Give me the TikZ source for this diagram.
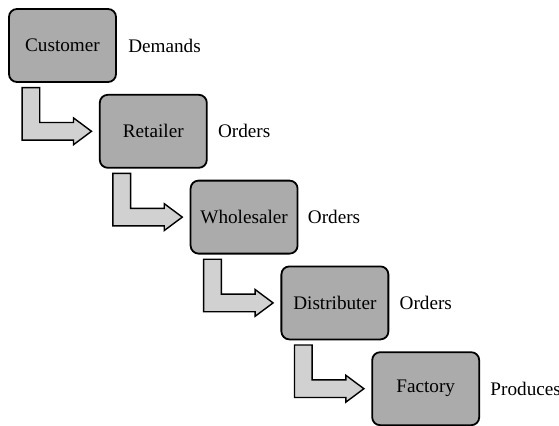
\documentclass[tikz,border=0pt]{standalone}
\usepackage{fontspec}
\setmainfont{Liberation Serif}
\newfontfamily\boxfont{Liberation Serif}
\usepackage{tikz}
\usetikzlibrary{positioning}
\usetikzlibrary{calc}

\begin{document}
\begin{tikzpicture}[node distance=42.9pt and 45.4pt,
    box/.style={draw, rectangle, rounded corners=4pt, line width=0.9pt, fill=black!33,
      minimum width=53.5pt, minimum height=36.5pt, on grid,
      font=\boxfont\fontsize{9.6pt}{11pt}\selectfont},
    note/.style={inner sep=0pt, font=\boxfont\fontsize{9.6pt}{11pt}\selectfont},
    flow/.style={draw, line width=0.7pt, fill=black!18, line join=miter}]
    \useasboundingbox (0,0) rectangle (279.5pt,-212.5pt);
    % Nodes
    \node [box] at (31.25pt,-22.75pt) (customer) {Customer};
    \node [box, below right=of customer] (retailer) {Retailer};
    \node [box, below right=of retailer] (wholesaler) {Wholesaler};
    \node [box, below right=of wholesaler] (distributer) {Distributer};
    \node [box, below right=of distributer] (factory) {Factory};

    \node [note, right=5.5pt of customer] (demands) {Demands};
    \node [note, right=5pt of retailer] (orders1) {Orders};
    \node [note, right=4.5pt of wholesaler] (orders2) {Orders};
    \node [note, right=5pt of distributer] (orders3) {Orders};
    \node [note, right=5pt of factory] (produces) {Produces};
    % Arrows
    \draw [flow] ($(customer.south west)+(7pt,-2.35pt)$) coordinate (c1) -- ++(8.85pt,0) |- ($(retailer.west)+(-12.7pt,4.4pt)$) -- ++(0,2.3pt) -- ($(retailer.west)+(-3.7pt,0)$) -- ($(retailer.west)+(-12.7pt,-6.7pt)$) -- ++(0,2.3pt) -| (c1) -- cycle;
    \draw [flow] ($(retailer.south west)+(7pt,-2.35pt)$) coordinate (c2) -- ++(8.85pt,0) |- ($(wholesaler.west)+(-12.7pt,4.4pt)$) -- ++(0,2.3pt) -- ($(wholesaler.west)+(-3.7pt,0)$) -- ($(wholesaler.west)+(-12.7pt,-6.7pt)$) -- ++(0,2.3pt) -| (c2) -- cycle;
    \draw [flow] ($(wholesaler.south west)+(7pt,-2.35pt)$) coordinate (c3) -- ++(8.85pt,0) |- ($(distributer.west)+(-12.7pt,4.4pt)$) -- ++(0,2.3pt) -- ($(distributer.west)+(-3.7pt,0)$) -- ($(distributer.west)+(-12.7pt,-6.7pt)$) -- ++(0,2.3pt) -| (c3) -- cycle;
    \draw [flow] ($(distributer.south west)+(7pt,-2.35pt)$) coordinate (c4) -- ++(8.85pt,0) |- ($(factory.west)+(-12.7pt,4.4pt)$) -- ++(0,2.3pt) -- ($(factory.west)+(-3.7pt,0)$) -- ($(factory.west)+(-12.7pt,-6.7pt)$) -- ++(0,2.3pt) -| (c4) -- cycle;
\end{tikzpicture}
\end{document}
